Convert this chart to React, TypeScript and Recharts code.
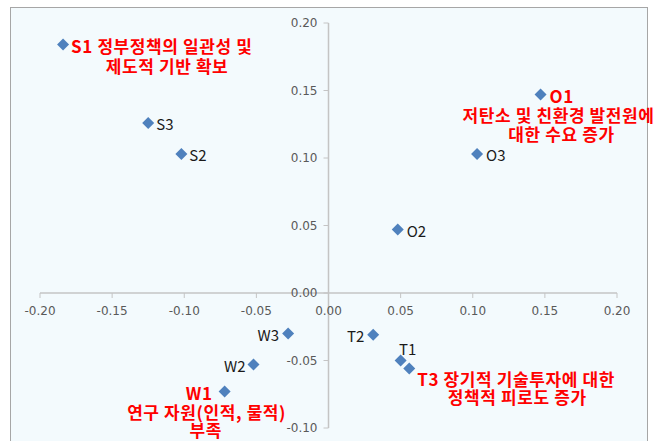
import React from 'react';
import { ScatterChart, Scatter, XAxis, YAxis, ReferenceLine, ReferenceDot } from 'recharts';

// SWOT factor coordinates
const names = ['S1', 'S2', 'S3', 'W1', 'W2', 'W3', 'O1', 'O2', 'O3', 'T1', 'T2', 'T3'];
const xValues = [-0.184, -0.102, -0.125, -0.072, -0.052, -0.028, 0.147, 0.048, 0.103, 0.050, 0.031, 0.056];
const yValues = [0.184, 0.103, 0.126, -0.073, -0.053, -0.030, 0.147, 0.047, 0.103, -0.050, -0.031, -0.056];

const labels: string[][] = [
  ['S1 정부정책의 일관성 및', '제도적 기반 확보'],
  ['S2'],
  ['S3'],
  ['W1', '연구 자원(인적, 물적)', '부족'],
  ['W2'],
  ['W3'],
  ['O1', '저탄소 및 친환경 발전원에', '대한 수요 증가'],
  ['O2'],
  ['O3'],
  ['T1'],
  ['T2'],
  ['T3 장기적 기술투자에 대한', '정책적 피로도 증가'],
];
const highlighted = ['S1', 'W1', 'O1', 'T3'];

const xTicks = [-0.2, -0.15, -0.1, -0.05, 0, 0.05, 0.1, 0.15, 0.2];
const yTicks = [-0.1, -0.05, 0, 0.05, 0.1, 0.15, 0.2];

type Anchor = 'start' | 'middle' | 'end';
// label placement relative to the marker, one entry per line
const LABEL_LAYOUT: { [key: string]: { dx: number; dy: number; anchor: Anchor }[] } = {
  S1: [{ dx: 8, dy: 0, anchor: 'start' }, { dx: 104, dy: 20, anchor: 'middle' }],
  S2: [{ dx: 8, dy: 0, anchor: 'start' }],
  S3: [{ dx: 8, dy: 0, anchor: 'start' }],
  W1: [{ dx: -12, dy: 0, anchor: 'end' }, { dx: -18, dy: 19, anchor: 'middle' }, { dx: -19, dy: 37, anchor: 'middle' }],
  W2: [{ dx: -8, dy: 0, anchor: 'end' }],
  W3: [{ dx: -9, dy: 0, anchor: 'end' }],
  O1: [{ dx: 9, dy: 0, anchor: 'start' }, { dx: 18, dy: 19, anchor: 'middle' }, { dx: 21, dy: 38, anchor: 'middle' }],
  O2: [{ dx: 9, dy: 0, anchor: 'start' }],
  O3: [{ dx: 9, dy: 0, anchor: 'start' }],
  T1: [{ dx: 7, dy: -13, anchor: 'middle' }],
  T2: [{ dx: -9, dy: 0, anchor: 'end' }],
  T3: [{ dx: 8, dy: 9, anchor: 'start' }, { dx: 108, dy: 27, anchor: 'middle' }],
};

const data = names.map((name, i) => ({ name, x: xValues[i], y: yValues[i], lines: labels[i] }));

const AXIS_COLOR = '#c4c4c4';
const TICK_TEXT = '#595959';

const DiamondWithLabel = (props: any) => {
  const { cx, cy, payload } = props;
  if (cx == null || cy == null) return null;
  const s = 6;
  const hot = highlighted.includes(payload.name);
  const layout = LABEL_LAYOUT[payload.name] || [];
  return (
    <g>
      <polygon
        points={`${cx},${cy - s} ${cx + s},${cy} ${cx},${cy + s} ${cx - s},${cy}`}
        fill="#4f81bd"
      />
      <text
        dominantBaseline="central"
        fontFamily="'Noto Sans CJK KR', 'Noto Sans', sans-serif"
        fontSize={hot ? 17 : 15}
        fontWeight={hot ? 700 : 400}
        letterSpacing={hot ? 0.6 : 0}
        fill={hot ? '#ff0000' : '#1a1a1a'}
      >
        {payload.lines.map((line: string, i: number) => {
          const l = layout[i] || { dx: 8, dy: i * 19, anchor: 'start' };
          return (
            <tspan key={i} x={cx + l.dx} y={cy + l.dy} textAnchor={l.anchor}>
              {line}
            </tspan>
          );
        })}
      </text>
    </g>
  );
};

const XTick = (label: string) => (props: any) => {
  const { cx, cy } = props;
  return (
    <g>
      <line x1={cx} y1={cy} x2={cx} y2={cy + 5} stroke={AXIS_COLOR} />
      <text x={cx} y={cy + 18} textAnchor="middle" dominantBaseline="central"
        fontFamily="'DejaVu Sans', sans-serif" fontSize={12} fill={TICK_TEXT}>{label}</text>
    </g>
  );
};

const YTick = (label: string) => (props: any) => {
  const { cx, cy } = props;
  return (
    <g>
      <line x1={cx - 5} y1={cy} x2={cx} y2={cy} stroke={AXIS_COLOR} />
      <text x={cx - 11} y={cy} textAnchor="end" dominantBaseline="central"
        fontFamily="'DejaVu Sans', sans-serif" fontSize={12} fill={TICK_TEXT}>{label}</text>
    </g>
  );
};

export default function App() {
  return (
    <div style={{ position: 'absolute', left: 0, top: 0, width: 660, height: 441, overflow: 'hidden', background: '#fff' }}>
      <div style={{ position: 'absolute', left: 10, top: 7, width: 636, height: 450, border: '1px solid #a6a6a6', background: '#f3fafd' }} />
      <div style={{ position: 'absolute', left: 0, top: 0 }}>
        <ScatterChart width={660} height={441} margin={{ top: 23, right: 43, bottom: 13, left: 40 }} style={{ overflow: 'visible' }}>
          <XAxis type="number" dataKey="x" domain={[-0.2, 0.2]} ticks={xTicks} hide />
          <YAxis type="number" dataKey="y" domain={[-0.1, 0.2]} ticks={yTicks} hide />
          <ReferenceLine y={0} stroke={AXIS_COLOR} strokeWidth={1.5} />
          <ReferenceLine x={0} stroke={AXIS_COLOR} strokeWidth={1.5} />
          {xTicks.map((t) => (
            <ReferenceDot key={`xt${t}`} x={t} y={0} shape={XTick(t.toFixed(2))} />
          ))}
          {yTicks.map((t) => (
            <ReferenceDot key={`yt${t}`} x={0} y={t} shape={YTick(t.toFixed(2))} />
          ))}
          <Scatter data={data} shape={DiamondWithLabel} isAnimationActive={false} />
        </ScatterChart>
      </div>
    </div>
  );
}
